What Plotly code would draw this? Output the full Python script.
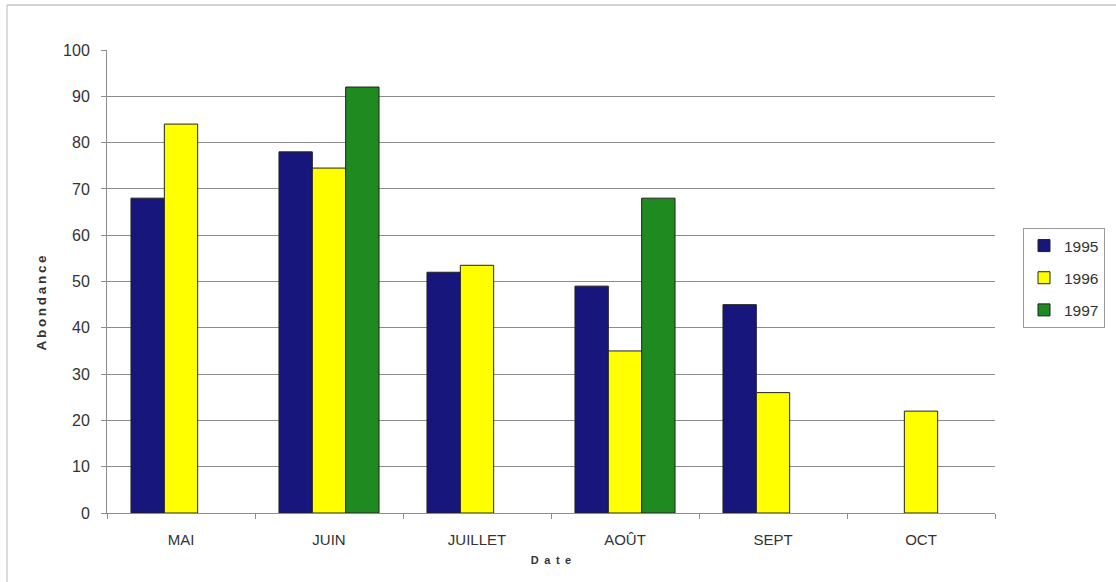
import plotly.graph_objects as go

# Monthly abundance per year
months = ["MAI", "JUIN", "JUILLET", "AOÛT", "SEPT", "OCT"]
abund_1995 = [68, 78, 52, 49, 45, None]
abund_1996 = [84, 74.5, 53.5, 35, 26, 22]
abund_1997 = [None, 92, None, 68, None, None]
years = ["1995", "1996", "1997"]
colors = ["#16167c", "#ffff00", "#1f8a1f"]

W, H = 1116, 582
L, R, T, B = 107, 121, 50, 69
pw, ph = W - L - R, H - T - B


def px_x(x):
    return (x - L) / pw


def px_y(y):
    return (H - B - y) / ph


def spaced(s, sep):
    return sep.join(s)


fig = go.Figure()
for name, vals, col in zip(years, [abund_1995, abund_1996, abund_1997], colors):
    fig.add_trace(go.Bar(
        x=months, y=vals, name=name, legendgroup=name,
        marker=dict(color=col, line=dict(color="#222222", width=1)),
    ))

fig.update_layout(
    width=W, height=H,
    margin=dict(l=L, r=R, t=T, b=B, autoexpand=False),
    paper_bgcolor="white", plot_bgcolor="white",
    barmode="group", bargap=0.324, bargroupgap=0,
    font=dict(family="Liberation Sans, Arial, sans-serif", color="#333333"),
    showlegend=True,
    legend=dict(
        x=px_x(1023), y=px_y(228), xanchor="left", yanchor="top",
        bordercolor="#9a9a9a", borderwidth=1,
        font=dict(size=15.5, color="#333333"),
        tracegroupgap=9, itemwidth=30,
        bgcolor="white",
    ),
    xaxis=dict(
        type="category", tickson="boundaries", ticks="outside", ticklen=5,
        tickcolor="#8c8c8c", showline=True, linecolor="#8c8c8c", linewidth=1,
        showgrid=False, tickfont=dict(size=15, color="#333333"),
        ticklabelstandoff=13,
        title=dict(text="<b>" + spaced("Date", "\u2002") + "</b>",
                   font=dict(size=11, color="#333333"), standoff=9),
    ),
    yaxis=dict(
        range=[0, 100], dtick=10, ticks="outside", ticklen=5, tickcolor="#8c8c8c",
        showline=True, linecolor="#8c8c8c", linewidth=1,
        showgrid=True, gridcolor="#8c8c8c", gridwidth=1,
        tickfont=dict(size=16, color="#333333"), zeroline=False,
        ticklabelstandoff=8,
    ),
    annotations=[dict(
        text="<b>" + spaced("Abondance", "\u2009") + "</b>", textangle=-90,
        xref="paper", yref="paper",
        x=px_x(31), y=px_y(303), showarrow=False,
        font=dict(size=13.5, color="#333333"),
    )],
    shapes=[
        dict(type="line", xref="paper", yref="paper", x0=px_x(7), x1=px_x(W),
             y0=px_y(5), y1=px_y(5), line=dict(color="#a8a8a8", width=1)),
        dict(type="line", xref="paper", yref="paper", x0=px_x(7), x1=px_x(7),
             y0=px_y(5), y1=px_y(H), line=dict(color="#b8b8b8", width=1)),
    ],
)

fig.write_html("out.html")
